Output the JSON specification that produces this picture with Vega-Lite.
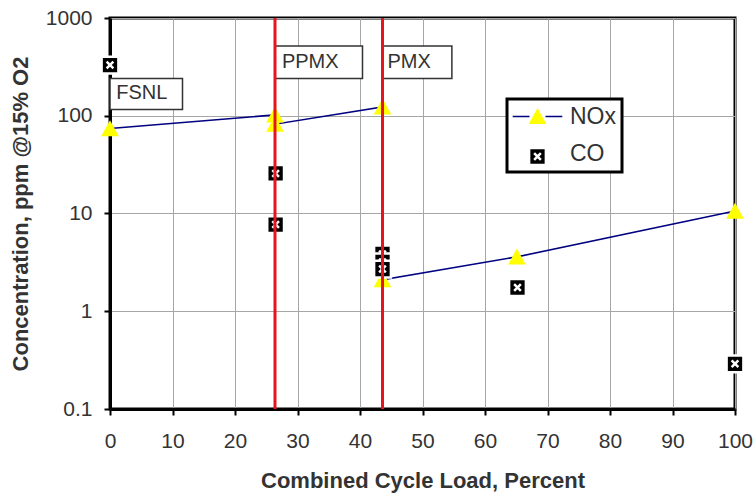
{
  "$schema": "https://vega.github.io/schema/vega-lite/v6.json",
  "width": 625,
  "height": 391,
  "autosize": {"type": "none"},
  "padding": {"left": 110, "top": 18, "right": 20, "bottom": 89},
  "background": "white",
  "config": {
    "font": "Liberation Sans",
    "view": {"stroke": "#000000", "strokeWidth": 3},
    "axis": {
      "domainColor": "#000000",
      "domainWidth": 3,
      "tickColor": "#000000",
      "tickWidth": 2,
      "tickSize": 6,
      "gridColor": "#a6a6a6",
      "gridWidth": 1,
      "labelFlush": false,
      "labelFont": "Liberation Sans",
      "labelFontSize": 21,
      "labelColor": "#333333",
      "titleFont": "Liberation Sans",
      "titleFontSize": 22,
      "titleFontWeight": "bold",
      "titleColor": "#333333"
    }
  },
  "datasets": {
    "nox": [
      {"load": 0, "val": 74, "series": "NOx", "ord": 1},
      {"load": 26.4, "val": 102, "series": "NOx", "ord": 2},
      {"load": 26.4, "val": 82, "series": "NOx", "ord": 3},
      {"load": 43.6, "val": 123, "series": "NOx", "ord": 4},
      {"load": 43.6, "val": 2.1, "series": "NOx", "ord": 5},
      {"load": 65.1, "val": 3.6, "series": "NOx", "ord": 6},
      {"load": 100, "val": 10.6, "series": "NOx", "ord": 7}
    ],
    "pts": [
      {"load": 0, "val": 74, "series": "NOx"},
      {"load": 26.4, "val": 102, "series": "NOx"},
      {"load": 26.4, "val": 82, "series": "NOx"},
      {"load": 43.6, "val": 123, "series": "NOx"},
      {"load": 43.6, "val": 2.1, "series": "NOx"},
      {"load": 65.1, "val": 3.6, "series": "NOx"},
      {"load": 100, "val": 10.6, "series": "NOx"},
      {"load": 0, "val": 330, "series": "CO"},
      {"load": 26.5, "val": 25.7, "series": "CO"},
      {"load": 26.5, "val": 7.7, "series": "CO"},
      {"load": 43.6, "val": 3.85, "series": "CO"},
      {"load": 43.6, "val": 3.2, "series": "CO"},
      {"load": 43.6, "val": 2.7, "series": "CO"},
      {"load": 65.2, "val": 1.75, "series": "CO"},
      {"load": 100, "val": 0.29, "series": "CO"}
    ],
    "modes": [
      {"label": "FSNL", "xline": null, "bx0": 0, "bx1": 11.6, "by0": 116, "by1": 241, "tx": 1.0, "ty": 170},
      {"label": "PPMX", "xline": 26.4, "bx0": 26.4, "bx1": 40.4, "by0": 241, "by1": 517, "tx": 27.5, "ty": 357},
      {"label": "PMX", "xline": 43.6, "bx0": 43.6, "bx1": 54.7, "by0": 241, "by1": 517, "tx": 44.4, "ty": 357}
    ]
  },
  "encoding": {
    "x": {
      "field": "load",
      "type": "quantitative",
      "scale": {"domain": [0, 100], "nice": false},
      "axis": {
        "values": [0, 10, 20, 30, 40, 50, 60, 70, 80, 90, 100],
        "title": "Combined Cycle Load, Percent",
        "labelPadding": 15,
        "titlePadding": 19
      }
    },
    "y": {
      "field": "val",
      "type": "quantitative",
      "scale": {"type": "log", "domain": [0.1, 1000], "nice": false},
      "axis": {
        "values": [0.1, 1, 10, 100, 1000],
        "format": "~g",
        "title": "Concentration, ppm @15% O2",
        "labelPadding": 12,
        "titlePadding": 13
      }
    }
  },
  "layer": [
    {
      "data": {"name": "nox"},
      "mark": {"type": "line", "strokeWidth": 1.6},
      "encoding": {
        "order": {"field": "ord", "type": "quantitative"},
        "color": {
          "field": "series",
          "type": "nominal",
          "scale": {"domain": ["NOx", "CO "], "range": ["#000080", "transparent"]},
          "legend": {
            "title": null,
            "orient": "none",
            "legendX": 397,
            "legendY": 81,
            "padding": 6,
            "rowPadding": 13,
            "strokeColor": "#000000",
            "fillColor": "#ffffff",
            "encode": {"legend": {"update": {"strokeWidth": {"value": 3}}}},
            "symbolType": "M-3.1,0L-1,0M1,0L3.1,0",
            "symbolSize": 256,
            "symbolStrokeWidth": 1.6,
            "symbolFillColor": "transparent",
            "symbolOffset": 13,
            "labelOffset": 21,
            "labelFontSize": 23,
            "labelFont": "Liberation Sans",
            "labelColor": "#333333"
          }
        }
      }
    },
    {
      "data": {"name": "pts"},
      "mark": {"type": "point", "filled": true, "size": 256, "strokeWidth": 2.5, "opacity": 1},
      "encoding": {
        "shape": {
          "field": "series",
          "type": "nominal",
          "scale": {"domain": ["NOx", "CO"], "range": ["M0,-1.05L1.1,0.95L-1.1,0.95Z", "M-1.05,-1.05L1.05,-1.05L1.05,1.05L-1.05,1.05ZM-0.42,-0.42L0.42,0.42M0.42,-0.42L-0.42,0.42"]},
          "legend": {
            "title": null,
            "orient": "none",
            "legendX": 397,
            "legendY": 81,
            "padding": 6,
            "rowPadding": 13,
            "symbolSize": 256,
            "symbolStrokeWidth": 2.5,
            "symbolOpacity": 1,
            "symbolOffset": 13,
            "labelOffset": 21,
            "labelFontSize": 23,
            "labelFont": "Liberation Sans",
            "labelExpr": "''"
          }
        },
        "fill": {
          "field": "series",
          "type": "nominal",
          "scale": {"domain": ["NOx", "CO"], "range": ["#ffff00", "#000000"]},
          "legend": {
            "title": null,
            "orient": "none",
            "legendX": 397,
            "legendY": 81,
            "padding": 6,
            "rowPadding": 13,
            "symbolSize": 256,
            "symbolStrokeWidth": 2.5,
            "symbolOpacity": 1,
            "symbolOffset": 13,
            "labelOffset": 21,
            "labelFontSize": 23,
            "labelFont": "Liberation Sans",
            "labelExpr": "''"
          }
        },
        "stroke": {
          "field": "series",
          "type": "nominal",
          "scale": {"domain": ["NOx", "CO"], "range": ["transparent", "#ffffff"]},
          "legend": {
            "title": null,
            "orient": "none",
            "legendX": 397,
            "legendY": 81,
            "padding": 6,
            "rowPadding": 13,
            "symbolSize": 256,
            "symbolStrokeWidth": 2.5,
            "symbolOpacity": 1,
            "symbolOffset": 13,
            "labelOffset": 21,
            "labelFontSize": 23,
            "labelFont": "Liberation Sans",
            "labelExpr": "''"
          }
        }
      }
    },
    {
      "data": {"name": "modes"},
      "mark": {"type": "rect", "fill": "#ffffff", "stroke": "#333333", "strokeWidth": 1.5},
      "encoding": {
        "x": {"field": "bx0", "type": "quantitative"},
        "x2": {"field": "bx1"},
        "y": {"field": "by0", "type": "quantitative"},
        "y2": {"field": "by1"}
      }
    },
    {
      "data": {"name": "modes"},
      "transform": [{"filter": "datum.xline != null"}],
      "mark": {"type": "rule", "color": "#e8141c", "strokeWidth": 3},
      "encoding": {
        "x": {"field": "xline", "type": "quantitative"},
        "y": null
      }
    },
    {
      "data": {"name": "modes"},
      "mark": {"type": "text", "align": "left", "baseline": "middle", "fontSize": 20, "font": "Liberation Sans", "color": "#333333"},
      "encoding": {
        "x": {"field": "tx", "type": "quantitative"},
        "y": {"field": "ty", "type": "quantitative"},
        "text": {"field": "label"}
      }
    }
  ]
}
